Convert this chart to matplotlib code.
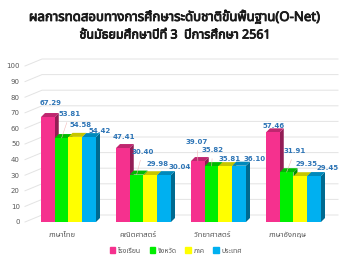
import matplotlib
matplotlib.use('Agg')
import matplotlib.pyplot as plt
from matplotlib import font_manager
from matplotlib.ft2font import FT2Font
from matplotlib.patches import Polygon
import matplotlib.patheffects as pe
import matplotlib.colors as mcolors
import numpy as np

# ---------------- data ----------------
categories = ['ภาษาไทย', 'คณิตศาสตร์', 'วิทยาศาสตร์', 'ภาษาอังกฤษ']
series_names = ['โรงเรียน', 'จังหวัด', 'ภาค', 'ประเทศ']
school = [67.29, 47.41, 39.07, 57.46]
province = [53.81, 30.40, 35.82, 31.91]
region = [54.58, 29.98, 35.81, 29.35]
country = [54.42, 30.04, 36.10, 29.45]
yticks = [0, 10, 20, 30, 40, 50, 60, 70, 80, 90, 100]
title1 = 'ผลการทดสอบทางการศึกษาระดับชาติขั้นพื้นฐาน(O-Net)'
title2 = 'ชั้นมัธยมศึกษาปีที่ 3  ปีการศึกษา 2561'

# ---------------- styles ----------------
colors = ['#F5318E', '#00EE00', '#FFFF00', '#00B0F0']
label_color = '#2E75B6'
# label offsets in pixels (dx, dy) relative to bar top centre
label_offsets = [
    [(3, 14), (1, 11), (-1, 19), (1, 6)],
    [(8, 24), (6, 23), (1, 16), (8, 21)],
    [(5, 12), (7, 11), (4, 7), (6, 12)],
    [(11, 6), (16, 8), (15, 7), (13, 8)],
]


def find_thai_font():
    pref = ['Noto Sans Thai', 'Noto Sans Thai UI', 'Noto Sans Thai Looped', 'Sarabun',
            'Tahoma', 'Leelawadee UI', 'Loma', 'Garuda', 'Norasi', 'Kinnari',
            'Tlwg Typo', 'Noto Serif Thai']
    found = {}
    for f in font_manager.fontManager.ttflist:
        try:
            cm = FT2Font(f.fname).get_charmap()
        except Exception:
            continue
        if 0x0E01 in cm and 0x0E32 in cm and 0x0E34 in cm:
            found.setdefault(f.name, []).append(f.weight)
    for p in pref:
        if p in found:
            return p, found[p]
    if found:
        k = list(found)[0]
        return k, found[k]
    return None, []


thai, weights = find_thai_font()
has_bold = any((w if isinstance(w, int) else 700 if w == 'bold' else 400) >= 600 for w in weights)
fams = ([thai] if thai else []) + ['DejaVu Sans']
plt.rcParams['font.family'] = fams

fig = plt.figure(figsize=(3.5, 2.62), dpi=100)
W, H = 350, 262
ax = fig.add_axes([31 / W, 40 / H, 300 / W, 156 / H])
ax.set_xlim(-0.5, 3.5)
ax.set_ylim(0, 100)

px_x = 4.0 / 300        # data units per pixel (x)
px_y = 100.0 / 156      # data units per pixel (y)

# gridlines drawn with perspective slant
for v in yticks:
    gx = [-0.5 - 6 * px_x, -0.5 + 11 * px_x, 3.5 + 7 * px_x]
    gy = [v, v + 7 * px_y, v + 7 * px_y]
    ax.plot(gx, gy, color='#E3E3E3', lw=0.7, clip_on=False, zorder=0)

data = [school, province, region, country]
x = np.arange(len(categories))
bw = 0.1833
depth_x = 4 * px_x
depth_y = 4 * px_y


def shade(c, f):
    r, g, b = mcolors.to_rgb(c)
    return (r * f, g * f, b * f)


for i, vals in enumerate(data):
    xs = x + (i - 1.5) * bw
    bars = ax.bar(xs, vals, width=bw, color=colors[i], zorder=3 + 3 * i, linewidth=0)
    for b in bars:
        x0 = b.get_x()
        x1 = x0 + b.get_width()
        h = b.get_height()
        side = Polygon([(x1, 0), (x1 + depth_x, depth_y), (x1 + depth_x, h + depth_y), (x1, h)],
                       closed=True, facecolor=shade(colors[i], 0.6), edgecolor='none',
                       zorder=2 + 3 * i)
        top = Polygon([(x0, h), (x0 + depth_x, h + depth_y), (x1 + depth_x, h + depth_y), (x1, h)],
                      closed=True, facecolor=shade(colors[i], 0.78), edgecolor='none',
                      zorder=2 + 3 * i)
        ax.add_patch(side)
        ax.add_patch(top)
    for j, (xc, v) in enumerate(zip(xs, vals)):
        dx, dy = label_offsets[i][j]
        ax.annotate('%.2f' % v, xy=(xc, v), xytext=(dx * 0.72, dy * 0.72),
                    textcoords='offset points', ha='center', va='center',
                    fontsize=5, fontweight='bold', color=label_color,
                    family=['DejaVu Sans'], zorder=30,
                    arrowprops=(dict(arrowstyle='-', color='#F2B8B8', lw=0.4,
                                     shrinkA=2, shrinkB=0) if dy >= 15 else None))

ax.set_yticks(yticks)
ax.set_yticklabels([str(t) for t in yticks], fontsize=5, color='#595959',
                   family=['DejaVu Sans'])
ax.set_xticks(x - 6 * px_x)
ax.set_xticklabels(categories, fontsize=5.5, color='#595959')
ax.tick_params(axis='y', length=0, pad=8)
ax.tick_params(axis='x', length=0, pad=7)
for s in ax.spines.values():
    s.set_visible(False)

# legend
handles = [plt.Rectangle((0, 0), 1, 1, color=c) for c in colors]
fig.legend(handles, series_names, loc='center', bbox_to_anchor=(176 / W, 1 - 251 / H),
           ncol=4, frameon=False, fontsize=5, handlelength=0.8, handleheight=0.8,
           handletextpad=0.4, columnspacing=1.2, labelcolor='#595959')

title_fx = None if has_bold else [pe.withStroke(linewidth=0.6, foreground='#1a1a1a')]
fig.text(0.5, 1 - 17 / H, title1, ha='center', va='center', fontsize=9.5,
         fontweight='bold', color='#1a1a1a', path_effects=title_fx)
fig.text(0.5, 1 - 35 / H, title2, ha='center', va='center', fontsize=9,
         fontweight='bold', color='#1a1a1a', path_effects=title_fx)

fig.savefig('out.png', dpi=100)
